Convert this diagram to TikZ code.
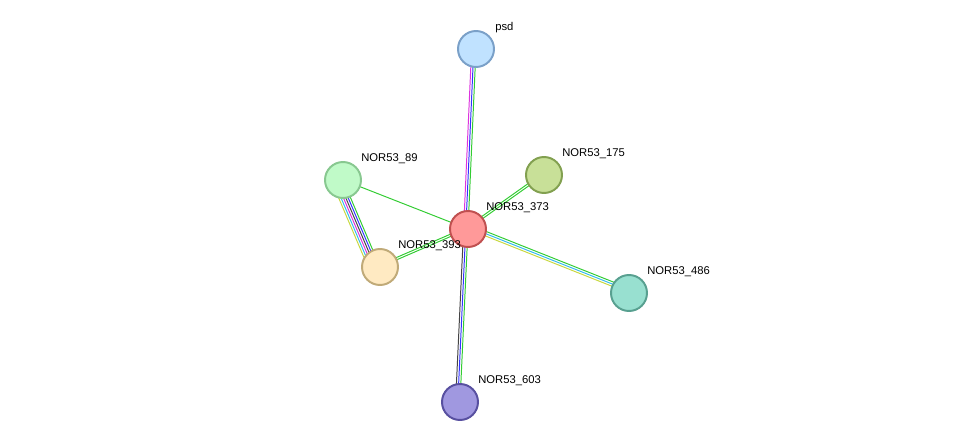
\documentclass[tikz,border=0pt]{standalone}
\usepackage{fontspec}
\setmainfont{Liberation Sans}
\usetikzlibrary{calc,backgrounds}
\tikzset{
    prot/.style = {
        draw,
        shape=circle,
        minimum size=0.9cm,
        inner sep=0pt,
        line width=1.4pt
    },
    plabel/.style = {
        anchor=west,
        inner sep=0pt,
        font=\fontsize{8}{9}\selectfont
    },
    evid/.style = {
        line width=0.7pt
    },
}
% parallel evidence lines between two named nodes
\newcommand{\strlink}[3]{%
    \foreach \col [count=\i] in {#3} {
        \pgfmathsetmacro{\off}{0.055*(\i-1)}
        \draw[evid, \col] ($(#1.center)!\off cm!90:(#2.center)$) -- ($(#2.center)!\off cm!-90:(#1.center)$);
    }
}
\definecolor{cgreen}{HTML}{33CC33}
\definecolor{cblue}{HTML}{3333FF}
\definecolor{cmag}{HTML}{DD33DD}
\definecolor{ccyan}{HTML}{33BBEE}
\definecolor{cyel}{HTML}{C8D840}
\definecolor{cblack}{HTML}{444444}
\begin{document}
\begin{tikzpicture}[x=0.025cm,y=-0.025cm]
                \useasboundingbox (0,0) rectangle (976,448);
                \node[prot, fill={rgb,255:red,192;green,226;blue,255}, draw={rgb,255:red,122;green,160;blue,200}] (psd) at (476,49) {};
                \node[prot, fill={rgb,255:red,192;green,250;blue,200}, draw={rgb,255:red,136;green,200;blue,144}] (n89) at (343,180) {};
                \node[prot, fill={rgb,255:red,200;green,224;blue,152}, draw={rgb,255:red,130;green,160;blue,80}] (n175) at (544,175) {};
                \node[prot, fill={rgb,255:red,255;green,153;blue,153}, draw={rgb,255:red,192;green,80;blue,80}] (n373) at (468,229) {};
                \node[prot, fill={rgb,255:red,255;green,234;blue,194}, draw={rgb,255:red,192;green,170;blue,120}] (n393) at (380,267) {};
                \node[prot, fill={rgb,255:red,152;green,224;blue,208}, draw={rgb,255:red,88;green,160;blue,144}] (n486) at (629,293) {};
                \node[prot, fill={rgb,255:red,160;green,152;blue,224}, draw={rgb,255:red,88;green,80;blue,160}] (n603) at (460,402) {};

                \node[plabel] (lpsd) at (495,28) {psd};
                \node[plabel] (l89) at (361,159) {NOR53\_89};
                \node[plabel] (l175) at (562,154) {NOR53\_175};
                \node[plabel] (l373) at (486,208) {NOR53\_373};
                \node[plabel] (l393) at (398,246) {NOR53\_393};
                \node[plabel] (l486) at (647,272) {NOR53\_486};
                \node[plabel] (l603) at (478,381) {NOR53\_603};

                \begin{pgfonlayer}{background}
                \strlink{n393}{n89}{cgreen,cblue,cblack,cmag,ccyan,cyel}
                \strlink{n89}{n373}{cgreen}
                \strlink{n393}{n373}{cgreen,cgreen}
                \strlink{n373}{n175}{cgreen,cgreen}
                \strlink{n373}{n486}{cyel,ccyan,cgreen}
                \strlink{n603}{n373}{cgreen,cblue,cblack}
                \strlink{n373}{psd}{cgreen,cblue,cmag}
                \end{pgfonlayer}
\end{tikzpicture}
\end{document}
